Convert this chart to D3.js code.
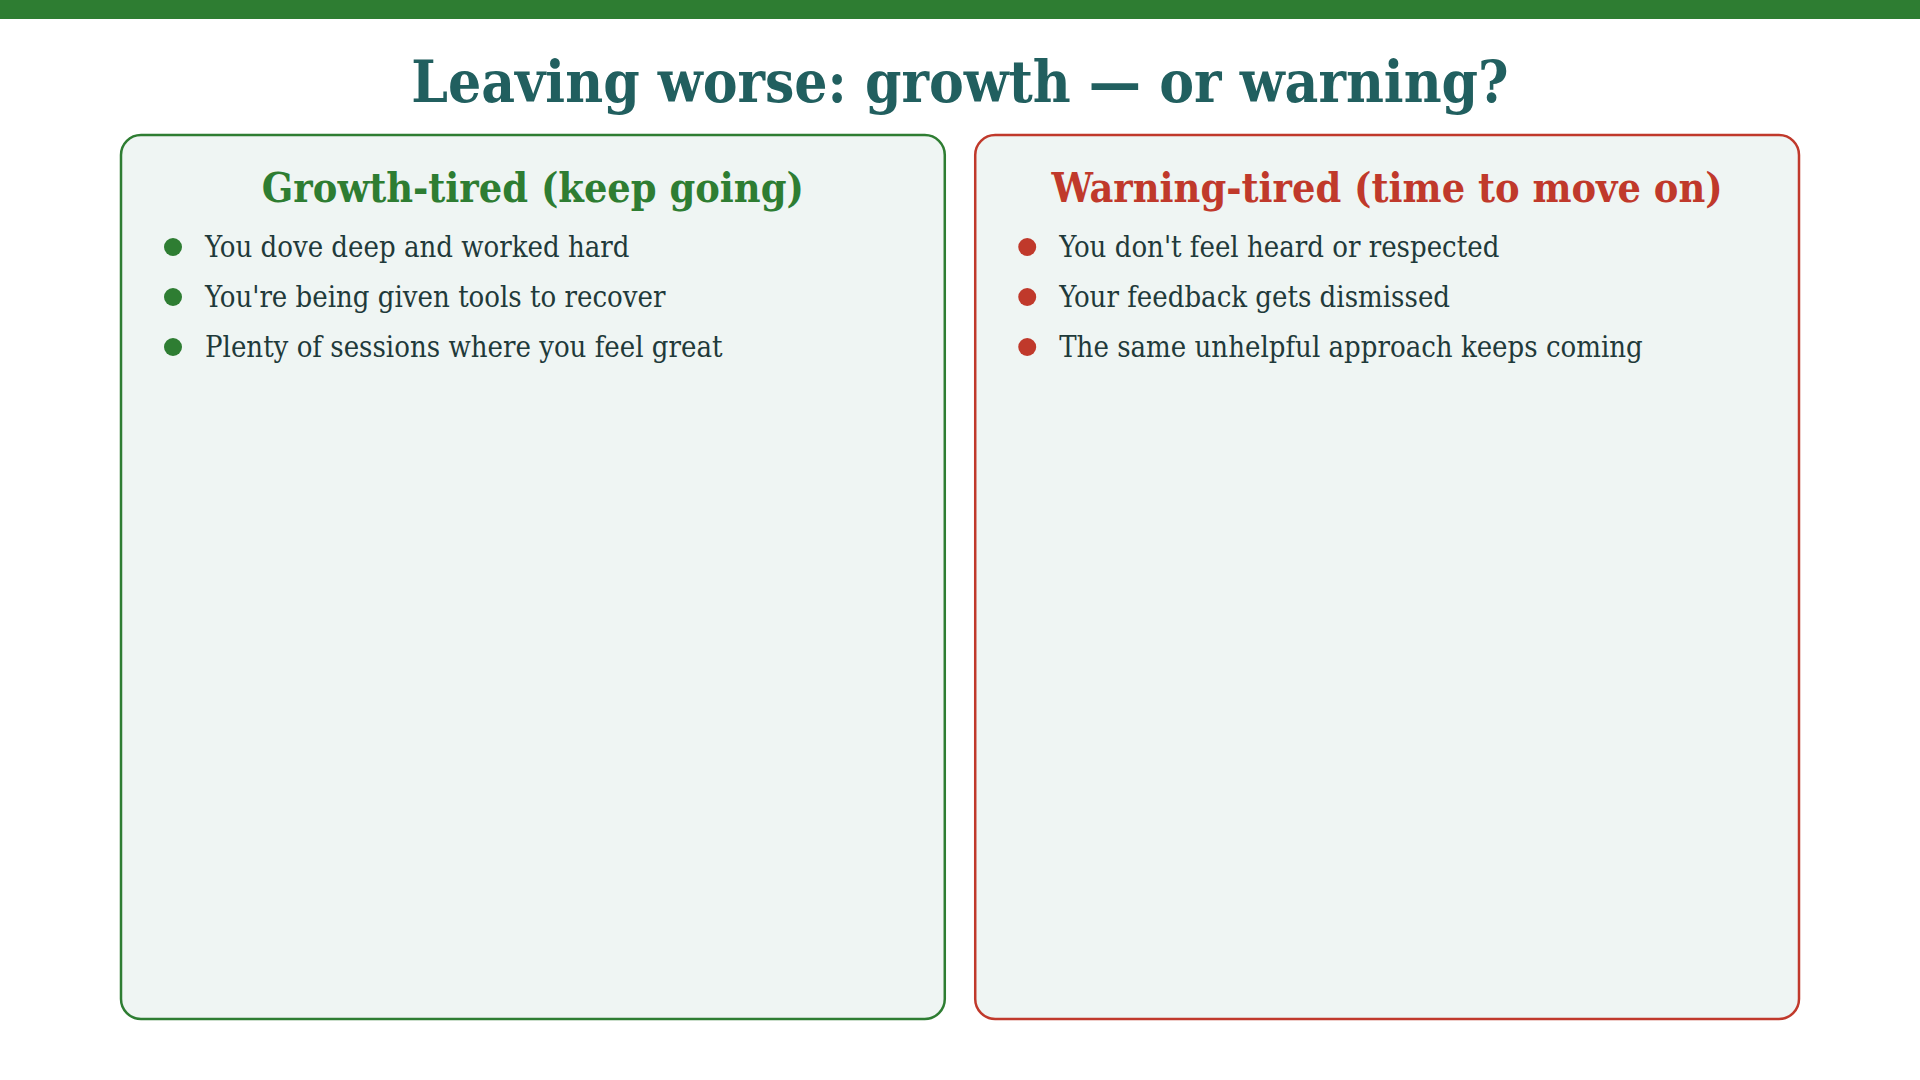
<!DOCTYPE html><html><head><meta charset="utf-8"><script src="https://cdn.jsdelivr.net/npm/d3@7"></script>
<style>body{margin:0;background:#fff}</style></head><body><svg id="c" width="1920" height="1080"></svg>
<script>
const title = "Leaving worse: growth — or warning?";
const panelTitles = ["Growth-tired (keep going)", "Warning-tired (time to move on)"];
const panelColors = ["#2e7d32", "#c0392b"];
const growthItems = ["You dove deep and worked hard","You're being given tools to recover","Plenty of sessions where you feel great"];
const warningItems = ["You don't feel heard or respected","Your feedback gets dismissed","The same unhelpful approach keeps coming"];
const lists = [growthItems, warningItems];

const svg = d3.select("#c");
const F = "'DejaVu Serif Condensed','DejaVu Serif',serif";
svg.append("rect").attr("x",0).attr("y",0).attr("width",1920).attr("height",19).attr("fill","#2e7d32");
svg.append("text").attr("x",960).attr("y",102).attr("text-anchor","middle").attr("font-family",F)
  .attr("font-weight","bold").attr("font-size",58).attr("fill","#215f5f").text(title);

const x = d3.scaleBand().domain([0,1]).range([121,1799]).paddingInner(62/1740);
const y = d3.scaleLinear().domain([0,1]).range([257,307]);
[0,1].forEach(i=>{
  const g = svg.append("g").attr("transform",`translate(${x(i)},0)`);
  const w = x.bandwidth();
  g.append("rect").attr("x",0).attr("y",135).attr("width",w).attr("height",884).attr("rx",20)
    .attr("fill","#eff5f3").attr("stroke",panelColors[i]).attr("stroke-width",2.5);
  g.append("text").attr("x",w/2).attr("y",202).attr("text-anchor","middle").attr("font-family",F)
    .attr("font-weight","bold").attr("font-size",41).attr("fill",panelColors[i]).text(panelTitles[i]);
  const it = g.selectAll("g.it").data(lists[i]).join("g").attr("class","it")
    .attr("transform",(d,j)=>`translate(0,${y(j)})`);
  it.append("circle").attr("cx",52).attr("cy",-10).attr("r",9).attr("fill",panelColors[i]);
  it.append("text").attr("x",84).attr("y",0).attr("font-family",F).attr("font-size",29)
    .attr("fill","#1f3a3a").text(d=>d);
});
</script></body></html>
